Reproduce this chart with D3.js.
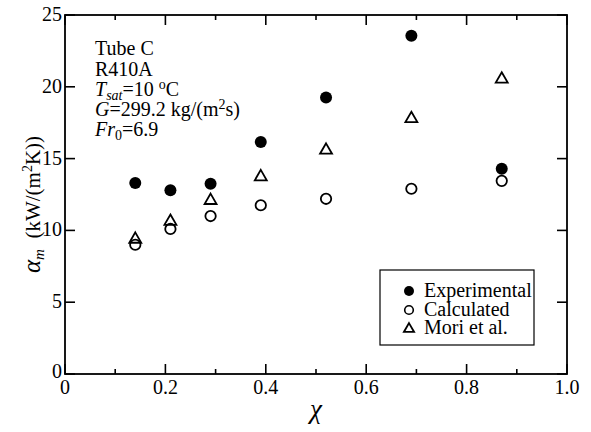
<html>
<head>
<title>Heat transfer coefficient</title>
<script src="https://d3js.org/d3.v7.min.js"></script>
<style>
  body { margin: 0; background: white; }
  .frame { fill: none; stroke: black; stroke-width: 1.8px; }
  .tick { stroke: black; stroke-width: 1.6px; }
</style>
</head>
<body>
<svg id="chart" width="591" height="432"></svg>
<script>
// data
const quality = [0.14, 0.21, 0.29, 0.39, 0.52, 0.69, 0.87];
const experimental = [13.3, 12.8, 13.25, 16.15, 19.25, 23.55, 14.3];
const calculated = [9.0, 10.1, 11.0, 11.75, 12.2, 12.9, 13.45];
const mori = [9.45, 10.7, 12.15, 13.8, 15.65, 17.85, 20.6];
const xTicks = [0, 0.2, 0.4, 0.6, 0.8, 1.0];
const xMinor = [0.1, 0.3, 0.5, 0.7, 0.9];
const yTicks = [0, 5, 10, 15, 20, 25];
const legendNames = ["Experimental", "Calculated", "Mori et al."];

const FONT = "'Liberation Serif', 'Times New Roman', serif";
const svg = d3.select("#chart").style("font-family", FONT);
const margin = {top: 15, right: 24, bottom: 58, left: 65};
const width = +svg.attr("width");
const height = +svg.attr("height");
const plotW = width - margin.left - margin.right;
const plotH = height - margin.top - margin.bottom;

const x = d3.scaleLinear().domain([0, 1]).range([margin.left, margin.left + plotW]);
const y = d3.scaleLinear().domain([0, 25]).range([margin.top + plotH, margin.top]);

const x0 = x(0), x1 = x(1), y0 = y(0), y1 = y(25);

function txt(g, px, py, size) {
  return g.append("text").attr("x", px).attr("y", py)
    .style("font-family", FONT).style("font-size", size + "px");
}

// frame
svg.append("rect").attr("class", "frame")
  .attr("x", x0).attr("y", y1).attr("width", x1 - x0).attr("height", y0 - y1);

// x ticks, inward, bottom and top
const major = 10, minor = 5;
xTicks.forEach(t => {
  svg.append("line").attr("class", "tick").attr("x1", x(t)).attr("x2", x(t)).attr("y1", y0).attr("y2", y0 - major);
  svg.append("line").attr("class", "tick").attr("x1", x(t)).attr("x2", x(t)).attr("y1", y1).attr("y2", y1 + major);
  txt(svg, x(t), y0 + 20, 20).attr("text-anchor", "middle")
    .text(t == 0 ? "0" : d3.format(".1f")(t));
});
xMinor.forEach(t => {
  svg.append("line").attr("class", "tick").attr("x1", x(t)).attr("x2", x(t)).attr("y1", y0).attr("y2", y0 - minor);
  svg.append("line").attr("class", "tick").attr("x1", x(t)).attr("x2", x(t)).attr("y1", y1).attr("y2", y1 + minor);
});

// y ticks, left and right
yTicks.forEach(t => {
  svg.append("line").attr("class", "tick").attr("x1", x0).attr("x2", x0 + 10).attr("y1", y(t)).attr("y2", y(t));
  svg.append("line").attr("class", "tick").attr("x1", x1).attr("x2", x1 - 10).attr("y1", y(t)).attr("y2", y(t));
  txt(svg, x0 - 3, y(t) + (t == 0 ? 4 : 6), 20).attr("text-anchor", "end").text(t);
});

// axis titles
txt(svg, (x0 + x1) / 2, 418, 27).attr("text-anchor", "middle").style("font-style", "italic").text("χ");

const yl = txt(svg, 0, 0, 21)
  .attr("transform", "translate(40," + ((y0 + y1) / 2 + 10) + ") rotate(-90)")
  .attr("text-anchor", "middle");
yl.append("tspan").style("font-style", "italic").style("font-size", "25px").text("α");
yl.append("tspan").style("font-style", "italic").style("font-size", "15px").attr("dy", 4).text("m");
yl.append("tspan").attr("dy", -4).text("\u00a0\u00a0(kW/(m");
yl.append("tspan").style("font-size", "14px").attr("dy", -8).text("2");
yl.append("tspan").attr("dy", 8).text("K))");

// annotation block
const ann = svg.append("g").attr("transform", "translate(95,0)");
const lineY = [55, 76, 96, 116, 136];
const sub = "14px";
txt(ann, 0, lineY[0], 20).text("Tube C");
txt(ann, 0, lineY[1], 20).text("R410A");
let t3 = txt(ann, 0, lineY[2], 20);
t3.append("tspan").style("font-style", "italic").text("T");
t3.append("tspan").style("font-style", "italic").style("font-size", sub).attr("dy", 4).text("sat");
t3.append("tspan").attr("dy", -4).text("=10 ");
t3.append("tspan").style("font-size", sub).attr("dy", -7).text("o");
t3.append("tspan").attr("dy", 7).text("C");
let t4 = txt(ann, 0, lineY[3], 20);
t4.append("tspan").style("font-style", "italic").text("G");
t4.append("tspan").text("=299.2 kg/(m");
t4.append("tspan").style("font-size", sub).attr("dy", -7).text("2");
t4.append("tspan").attr("dy", 7).text("s)");
let t5 = txt(ann, 0, lineY[4], 20);
t5.append("tspan").style("font-style", "italic").text("Fr");
t5.append("tspan").style("font-size", sub).attr("dy", 4).text("0");
t5.append("tspan").attr("dy", -4).text("=6.9");

// markers
const tri = d3.symbol().type(d3.symbolTriangle);
function triangle(g, cx, cy, size) {
  g.append("path").attr("d", tri.size(size)())
    .attr("transform", "translate(" + cx + "," + (cy + 1) + ")")
    .attr("fill", "white").attr("stroke", "black").attr("stroke-width", 1.8);
}

const pts = svg.append("g");
quality.forEach((q, i) => triangle(pts, x(q), y(mori[i]), 62));
pts.selectAll("circle.calc").data(quality).join("circle").attr("class", "calc")
  .attr("cx", d => x(d)).attr("cy", (d, i) => y(calculated[i])).attr("r", 5.2)
  .attr("fill", "none").attr("stroke", "black").attr("stroke-width", 1.8);
pts.selectAll("circle.exp").data(quality).join("circle").attr("class", "exp")
  .attr("cx", d => x(d)).attr("cy", (d, i) => y(experimental[i])).attr("r", 6)
  .attr("fill", "black");

// legend
const lg = svg.append("g").attr("transform", "translate(380,270)");
lg.append("rect").attr("width", 154).attr("height", 75)
  .attr("fill", "white").attr("stroke", "black").attr("stroke-width", 1.2);
const rowY = [21, 40, 58];
lg.append("circle").attr("cx", 29).attr("cy", rowY[0]).attr("r", 5).attr("fill", "black");
lg.append("circle").attr("cx", 29).attr("cy", rowY[1]).attr("r", 4.3)
  .attr("fill", "none").attr("stroke", "black").attr("stroke-width", 1.6);
triangle(lg, 29, rowY[2], 45);
legendNames.forEach((n, i) => {
  txt(lg, 44, rowY[i] + 6, 20).text(n);
});
</script>
</body>
</html>
